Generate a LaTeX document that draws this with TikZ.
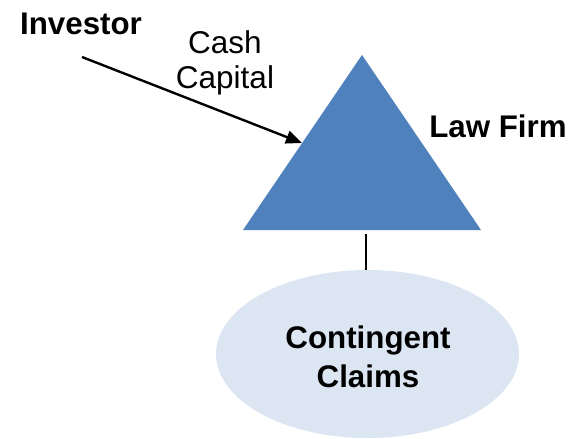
\documentclass[tikz,border=0pt]{standalone}
\usepackage{fontspec}
\setmainfont{Liberation Sans}
\usetikzlibrary{arrows.meta,shapes.geometric}
\definecolor{firmblue}{RGB}{79,129,189}
\definecolor{claimblue}{RGB}{220,230,242}
\tikzset{
  boldlabel/.style={font=\fontsize{31.3}{38.5}\selectfont\bfseries, inner sep=0pt, align=center},
  plainlabel/.style={font=\fontsize{31.5}{35}\selectfont, inner sep=0pt, align=center},
  flow/.style={line width=2.4pt, -{Triangle[length=16pt,width=13pt]}},
  link/.style={line width=1.4pt}
}
\begin{document}
\begin{tikzpicture}[x=1pt,y=-1pt]
\useasboundingbox (0,0) rectangle (571,439);
% law firm triangle
\coordinate (apex) at (362,55);
\coordinate (bl) at (243,230);
\coordinate (br) at (481,230);
\fill[firmblue] (apex) -- (br) -- (bl) -- cycle;
\coordinate (firmbottom) at (366,234);
\coordinate (firmedge) at (302,143);
% contingent claims ellipse
\node[ellipse, fill=claimblue, minimum width=303pt, minimum height=168pt, inner sep=0pt] (claims) at (367.5,354) {};
\node[boldlabel] (claimtext) at (368,357) {Contingent\\Claims};
% labels
\node[boldlabel] (investor) at (81,24) {Investor};
\node[boldlabel] (lawfirm) at (498,126) {Law Firm};
\node[plainlabel] (cash) at (225,63) {Cash\\Capital};
% connectors
\coordinate (flowstart) at (82,57);
\draw[flow] (flowstart) -- (firmedge);
\draw[link] (firmbottom) -- (firmbottom |- claims.north);
\end{tikzpicture}
\end{document}
